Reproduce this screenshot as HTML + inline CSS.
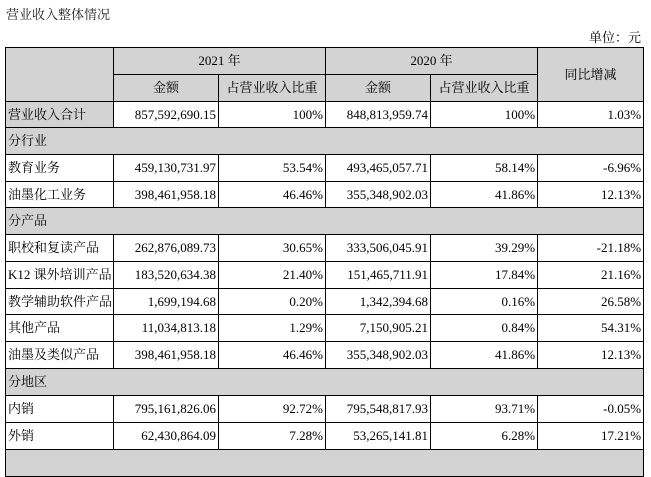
<!DOCTYPE html>
<html><head><meta charset="utf-8"><style>
body{margin:0;width:651px;height:454px;overflow:hidden;background:#fff;font-family:"Liberation Serif","Noto Serif CJK SC","Noto Sans CJK SC",serif;font-size:13px;color:#000;position:relative}
.t{position:absolute;left:6px;top:4px;font-size:13px;color:#222}
.u{position:absolute;right:10px;top:27px;font-size:13px}
table{position:absolute;left:5px;top:47px;border-collapse:collapse;table-layout:fixed;width:638px}
td{border:1px solid #000;padding:0 2px;white-space:nowrap;overflow:hidden;text-align:right;background:#fff;line-height:14px}
td.g{background:#d3d3d3}
td.c{text-align:center}
td.l{text-align:left}
</style></head><body>
<div class="t">营业收入整体情况</div>
<div class="u">单位：元</div>
<table>
<colgroup><col style="width:108px"><col style="width:105px"><col style="width:107px"><col style="width:105px"><col style="width:107px"><col style="width:106px"></colgroup>
<tr style="height:27px"><td class="g" rowspan="2"></td><td class="g c" colspan="2">2021 年</td><td class="g c" colspan="2">2020 年</td><td class="g c" rowspan="2">同比增减</td></tr>
<tr style="height:27px"><td class="g c">金额</td><td class="g c">占营业收入比重</td><td class="g c">金额</td><td class="g c">占营业收入比重</td></tr>
<tr style="height:26px"><td class="g l">营业收入合计</td><td>857,592,690.15</td><td>100%</td><td>848,813,959.74</td><td>100%</td><td>1.03%</td></tr>
<tr style="height:27px"><td class="g l" colspan="6">分行业</td></tr>
<tr style="height:27px"><td class="l">教育业务</td><td>459,130,731.97</td><td>53.54%</td><td>493,465,057.71</td><td>58.14%</td><td>-6.96%</td></tr>
<tr style="height:26px"><td class="l">油墨化工业务</td><td>398,461,958.18</td><td>46.46%</td><td>355,348,902.03</td><td>41.86%</td><td>12.13%</td></tr>
<tr style="height:27px"><td class="g l" colspan="6">分产品</td></tr>
<tr style="height:27px"><td class="l">职校和复读产品</td><td>262,876,089.73</td><td>30.65%</td><td>333,506,045.91</td><td>39.29%</td><td>-21.18%</td></tr>
<tr style="height:27px"><td class="l">K12 课外培训产品</td><td>183,520,634.38</td><td>21.40%</td><td>151,465,711.91</td><td>17.84%</td><td>21.16%</td></tr>
<tr style="height:26px"><td class="l">教学辅助软件产品</td><td>1,699,194.68</td><td>0.20%</td><td>1,342,394.68</td><td>0.16%</td><td>26.58%</td></tr>
<tr style="height:27px"><td class="l">其他产品</td><td>11,034,813.18</td><td>1.29%</td><td>7,150,905.21</td><td>0.84%</td><td>54.31%</td></tr>
<tr style="height:27px"><td class="l">油墨及类似产品</td><td>398,461,958.18</td><td>46.46%</td><td>355,348,902.03</td><td>41.86%</td><td>12.13%</td></tr>
<tr style="height:27px"><td class="g l" colspan="6">分地区</td></tr>
<tr style="height:27px"><td class="l">内销</td><td>795,161,826.06</td><td>92.72%</td><td>795,548,817.93</td><td>93.71%</td><td>-0.05%</td></tr>
<tr style="height:27px"><td class="l">外销</td><td>62,430,864.09</td><td>7.28%</td><td>53,265,141.81</td><td>6.28%</td><td>17.21%</td></tr>
<tr style="height:27px"><td class="g l" colspan="6">&nbsp;</td></tr>
</table>
</body></html>
